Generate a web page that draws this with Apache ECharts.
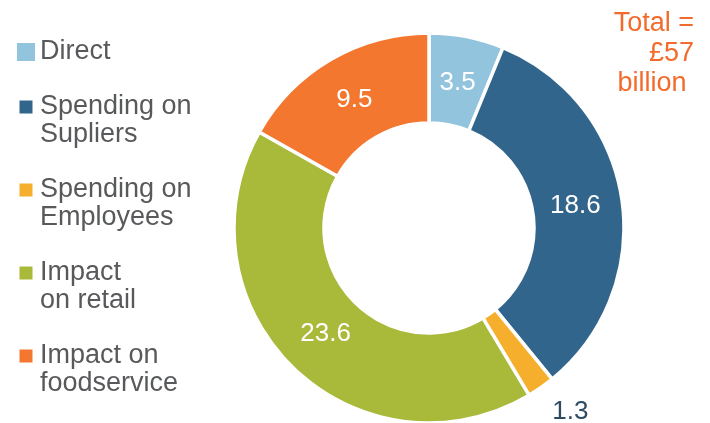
<!DOCTYPE html>
<html>
<head>
<meta charset="utf-8">
<script src="https://cdn.jsdelivr.net/npm/echarts@6/dist/echarts.min.js"></script>
<style>
  html, body { margin: 0; padding: 0; background: #fff; }
  #chart { width: 710px; height: 423px; }
</style>
</head>
<body>
<div id="chart"></div>
<script>
// Economic contribution breakdown (£ billion)
const categories = [
  'Direct',
  'Spending on\nSupliers',
  'Spending on\nEmployees',
  'Impact\non retail',
  'Impact on\nfoodservice'
];
const values = [3.5, 18.6, 1.3, 23.6, 9.5];
const colors = ['#93C4DE', '#32658C', '#F6AE2D', '#A9B93A', '#F47730'];
const totalLines = ['Total =', '£57', 'billion\u00a0'];

// the one slice too narrow to hold its value inside
const outsideIndex = 2;

const font = "'Liberation Sans', Arial, Helvetica, sans-serif";
const smallSquare = 'path://M0 0M18 18M2.5 2.5h13v13h-13z';
const pieCenter = [429, 228];
const totalLineHeight = 30;

const chart = echarts.init(document.getElementById('chart'), null, { renderer: 'canvas' });

const pieData = categories.map((name, i) => {
  const item = { name, value: values[i], itemStyle: { color: colors[i] } };
  if (i === outsideIndex) {
    item.label = { position: 'outside', color: '#2F4A63' };
    item.labelLine = { show: false, length: 30, length2: 0 };
  }
  return item;
});

chart.setOption({
  backgroundColor: '#ffffff',
  animation: false,
  graphic: [{
    type: 'group',
    right: 16,
    top: 10,
    children: totalLines.map((line, i) => ({
      type: 'text',
      x: 0,
      y: i * totalLineHeight,
      style: {
        text: line,
        align: 'right',
        verticalAlign: 'top',
        fill: '#F26B2C',
        font: '27px ' + font
      }
    }))
  }],
  legend: {
    orient: 'vertical',
    left: 12,
    top: 33,
    height: 390,
    itemGap: -1,
    itemWidth: 18,
    itemHeight: 18,
    selectedMode: false,
    itemStyle: { borderWidth: 0 },
    data: categories.map((name, i) => ({ name, icon: i === 0 ? 'rect' : smallSquare })),
    // keep the swatch level with the first line of a two-line entry
    formatter: name => name.indexOf('\n') >= 0 ? '\u00a0\n' + name : name,
    textStyle: {
      color: '#58595B',
      fontFamily: font,
      fontSize: 27,
      lineHeight: 28
    }
  },
  series: [{
    type: 'pie',
    center: pieCenter,
    radius: [105, 195],
    startAngle: 90,
    clockwise: true,
    avoidLabelOverlap: false,
    itemStyle: { borderColor: '#ffffff', borderWidth: 3.5 },
    label: {
      show: true,
      position: 'inside',
      formatter: p => p.value.toFixed(1),
      color: '#ffffff',
      fontFamily: font,
      fontSize: 26
    },
    labelLayout: p => {
      if (p.dataIndex === outsideIndex) return { dx: -11 };
      // pull the in-ring values slightly toward the hole
      const r = p.labelRect;
      const vx = r.x + r.width / 2 - pieCenter[0];
      const vy = r.y + r.height / 2 - pieCenter[1];
      const len = Math.sqrt(vx * vx + vy * vy) || 1;
      return { dx: -5 * vx / len, dy: -5 * vy / len };
    },
    emphasis: { disabled: true },
    data: pieData
  }]
});
</script>
</body>
</html>
